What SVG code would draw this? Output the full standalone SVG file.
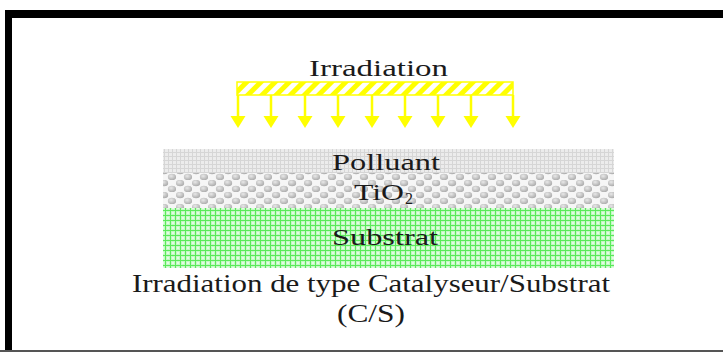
<svg xmlns="http://www.w3.org/2000/svg" width="723" height="352" viewBox="0 0 723 352">
  <defs>
    <pattern id="hatch" width="10" height="10" patternUnits="userSpaceOnUse" patternTransform="rotate(45)">
      <rect width="10" height="10" fill="#ffffff"/>
      <rect width="5" height="10" fill="#ffff00"/>
    </pattern>
    <pattern id="polluantFill" width="4" height="4" patternUnits="userSpaceOnUse">
      <rect width="4" height="4" fill="#ececec"/>
      <path d="M0 0.5H4M0.5 0V4" stroke="#d6d6d6" stroke-width="1"/>
    </pattern>
    <radialGradient id="ball" cx="0.4" cy="0.35" r="0.7">
      <stop offset="0" stop-color="#e8e8e8"/>
      <stop offset="1" stop-color="#a8a8a8"/>
    </radialGradient>
    <pattern id="tio2Fill" width="16" height="12" patternUnits="userSpaceOnUse">
      <rect width="16" height="12" fill="#f6f6f6"/>
      <ellipse cx="4" cy="3" rx="4.2" ry="3.2" fill="url(#ball)"/>
      <ellipse cx="12" cy="9" rx="4.2" ry="3.2" fill="url(#ball)"/>
    </pattern>
    <pattern id="substratFill" width="5" height="5" patternUnits="userSpaceOnUse">
      <rect width="5" height="5" fill="#c4f8c4"/>
      <path d="M0 0.5H5M0.5 0V5" stroke="#5aea5a" stroke-width="1"/>
      <circle cx="3" cy="3" r="1" fill="#ecfeec"/>
    </pattern>
    <style>
      .serif { font-family: "Liberation Serif", "Times New Roman", serif; fill: #1a1a1a; }
      .shaft { stroke: #ffff00; stroke-width: 2.5; fill: none; }
      .head { fill: #ffff00; }
    </style>
  </defs>

  <!-- frame -->
  <rect x="0" y="0" width="723" height="352" fill="#ffffff"/>
  <rect x="5" y="10" width="718" height="8" fill="#000000"/>
  <rect x="5" y="10" width="7" height="342" fill="#000000"/>
  <rect x="0" y="350" width="723" height="2" fill="#555555"/>

  <!-- light source -->
  <g id="irradiation">
    <text class="serif" x="378.5" y="76" font-size="23" text-anchor="middle" textLength="139" lengthAdjust="spacingAndGlyphs">Irradiation</text>
    <rect x="237" y="82" width="276" height="13" fill="url(#hatch)" stroke="#ffff00" stroke-width="1.5"/>
  </g>

  <!-- rays -->
  <g id="rays">
    <path class="shaft" d="M238 95V118M271 95V118M305 95V118M338 95V118M372 95V118M405 95V118M438 95V118M471 95V118M513 95V118"/>
    <path class="head" d="M230.5 116h15l-7.5 12z"/>
    <path class="head" d="M263.5 116h15l-7.5 12z"/>
    <path class="head" d="M297.5 116h15l-7.5 12z"/>
    <path class="head" d="M330.5 116h15l-7.5 12z"/>
    <path class="head" d="M364.5 116h15l-7.5 12z"/>
    <path class="head" d="M397.5 116h15l-7.5 12z"/>
    <path class="head" d="M430.5 116h15l-7.5 12z"/>
    <path class="head" d="M463.5 116h15l-7.5 12z"/>
    <path class="head" d="M505.5 116h15l-7.5 12z"/>
  </g>

  <!-- layer stack -->
  <g id="polluant">
    <rect x="163" y="149" width="451" height="24" fill="url(#polluantFill)"/>
    <text class="serif" x="386" y="170" font-size="24" text-anchor="middle" textLength="108" lengthAdjust="spacingAndGlyphs">Polluant</text>
  </g>
  <g id="tio2">
    <rect x="163" y="173" width="451" height="35" fill="url(#tio2Fill)"/>
    <text class="serif" x="354" y="200" font-size="24" textLength="50" lengthAdjust="spacingAndGlyphs">TiO</text>
    <text class="serif" x="405" y="204" font-size="16">2</text>
  </g>
  <g id="substrat">
    <rect x="163" y="208" width="451" height="60" fill="url(#substratFill)"/>
    <text class="serif" x="385" y="245" font-size="24" text-anchor="middle" textLength="106" lengthAdjust="spacingAndGlyphs">Substrat</text>
  </g>

  <!-- caption -->
  <g id="caption">
    <text class="serif" x="371" y="292" font-size="25" text-anchor="middle" textLength="478" lengthAdjust="spacingAndGlyphs">Irradiation de type Catalyseur/Substrat</text>
    <text class="serif" x="371" y="322" font-size="25" text-anchor="middle" textLength="68" lengthAdjust="spacingAndGlyphs">(C/S)</text>
  </g>
</svg>
